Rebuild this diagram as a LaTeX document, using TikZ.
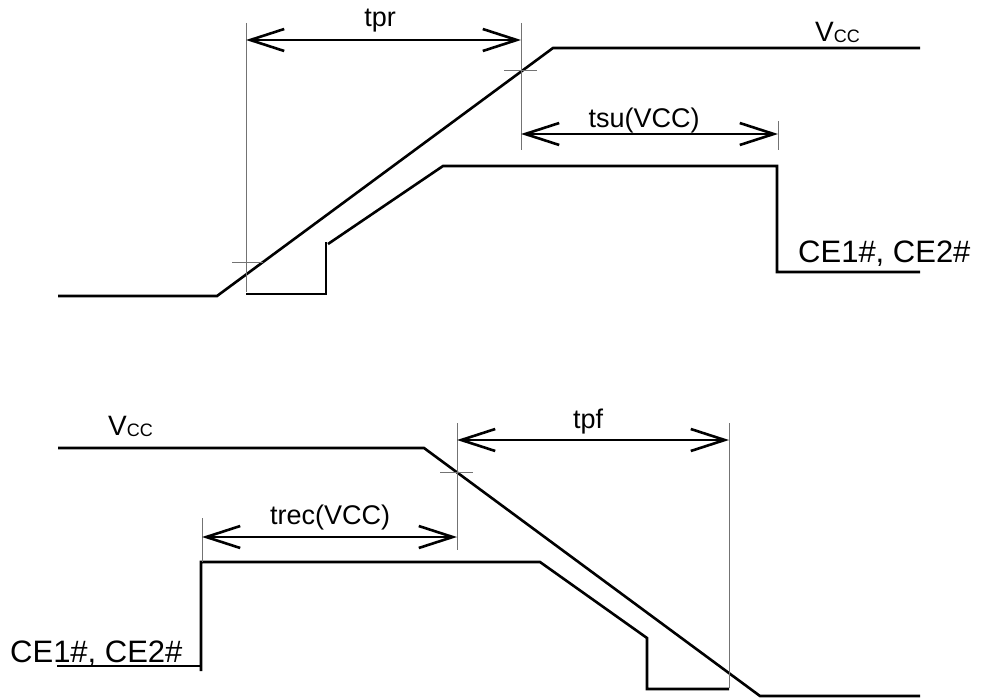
\documentclass[tikz,border=0pt]{standalone}
\usepackage{fontspec}
\setmainfont{Liberation Sans}
\usetikzlibrary{arrows.meta}
\begin{document}
\begin{tikzpicture}[x=1pt,y=-1pt,
  sig/.style={line width=2.6pt, line join=miter},
  guide/.style={line width=1pt, draw=black!55},
  dim/.style={line width=2.6pt, {Straight Barb[length=34pt,width=22pt]}-{Straight Barb[length=34pt,width=22pt]}},
  lbl/.style={font=\fontsize{27}{27}\selectfont, anchor=base, inner sep=0pt},
  sigl/.style={font=\fontsize{31}{31}\selectfont, anchor=base west, inner sep=0pt},
  vccl/.style={font=\fontsize{28}{28}\selectfont, anchor=base west, inner sep=0pt}]
\path[use as bounding box] (0,0) rectangle (981,698);
\newcommand{\vccsub}{V{\fontsize{18}{18}\selectfont\raisebox{-1pt}{CC}}}

% ---------------- top diagram ----------------
\coordinate (a1) at (58,296);
\coordinate (a2) at (217,296);
\coordinate (a3) at (553,48);
\coordinate (a4) at (920,48);
\draw[sig] (a1) -- (a2) -- (a3) -- (a4);

\coordinate (c1) at (246,294);
\coordinate (c2) at (326,294);
\coordinate (c3) at (326,242);
\coordinate (c4) at (328,244);
\coordinate (c5) at (443,166);
\coordinate (c6) at (777,166);
\coordinate (c7) at (777,272);
\coordinate (c8) at (920,272);
\draw[sig] (c1) -- (c2) -- (c3);
\draw[sig] (c4) -- (c5) -- (c6) -- (c7) -- (c8);

\coordinate (g1t) at (246,23);  \coordinate (g1b) at (246,292);
\coordinate (g2t) at (521,23);  \coordinate (g2b) at (521,150);
\coordinate (g3t) at (778,121); \coordinate (g3b) at (778,150);
\draw[guide] (g1t) -- (g1b);
\draw[guide] (g2t) -- (g2b);
\draw[guide] (g3t) -- (g3b);
\coordinate (k1l) at (232,262); \coordinate (k1r) at (263,262);
\coordinate (k2l) at (504,71);  \coordinate (k2r) at (537,71);
\draw[guide] (k1l) -- (k1r);
\draw[guide] (k2l) -- (k2r);

\coordinate (tprL) at (246,40); \coordinate (tprR) at (521,40);
\draw[dim] (tprL) -- (tprR);
\node[lbl] (tpr) at (380,27) {tpr};
\coordinate (tsuL) at (521,134); \coordinate (tsuR) at (778,134);
\draw[dim] (tsuL) -- (tsuR);
\node[lbl] (tsu) at (644,128) {tsu(VCC)};

\node[vccl] (vcc1) at (815,42) {\vccsub};
\node[sigl] (ce1) at (798,262) {CE1\#, CE2\#};

% ---------------- bottom diagram ----------------
\coordinate (b1) at (58,448);
\coordinate (b2) at (424,448);
\coordinate (b3) at (760,696);
\coordinate (b4) at (920,696);
\draw[sig] (b1) -- (b2) -- (b3) -- (b4);

\coordinate (d1) at (57,666);
\coordinate (d2) at (201,666);
\coordinate (d3) at (201,671);
\coordinate (d4) at (201,562);
\coordinate (d5) at (540,562);
\coordinate (d6) at (647,638);
\coordinate (d7) at (647,689);
\coordinate (d8) at (729,689);
\draw[sig] (d1) -- (d2);
\draw[sig] (d3) -- (d4) -- (d5) -- (d6) -- (d7) -- (d8);

\coordinate (h1t) at (457,423); \coordinate (h1b) at (457,550);
\coordinate (h2t) at (729,423); \coordinate (h2b) at (729,688);
\coordinate (h3t) at (202,518); \coordinate (h3b) at (202,562);
\draw[guide] (h1t) -- (h1b);
\draw[guide] (h2t) -- (h2b);
\draw[guide] (h3t) -- (h3b);
\coordinate (k3l) at (440,472); \coordinate (k3r) at (473,472);
\draw[guide] (k3l) -- (k3r);

\coordinate (tpfL) at (457,440); \coordinate (tpfR) at (729,440);
\draw[dim] (tpfL) -- (tpfR);
\node[lbl] (tpf) at (588,428) {tpf};
\coordinate (trecL) at (202,537); \coordinate (trecR) at (457,537);
\draw[dim] (trecL) -- (trecR);
\node[lbl] (trec) at (330,524) {trec(VCC)};

\node[vccl] (vcc2) at (108,435) {\vccsub};
\node[sigl] (ce2) at (10,662) {CE1\#, CE2\#};
\end{tikzpicture}
\end{document}
